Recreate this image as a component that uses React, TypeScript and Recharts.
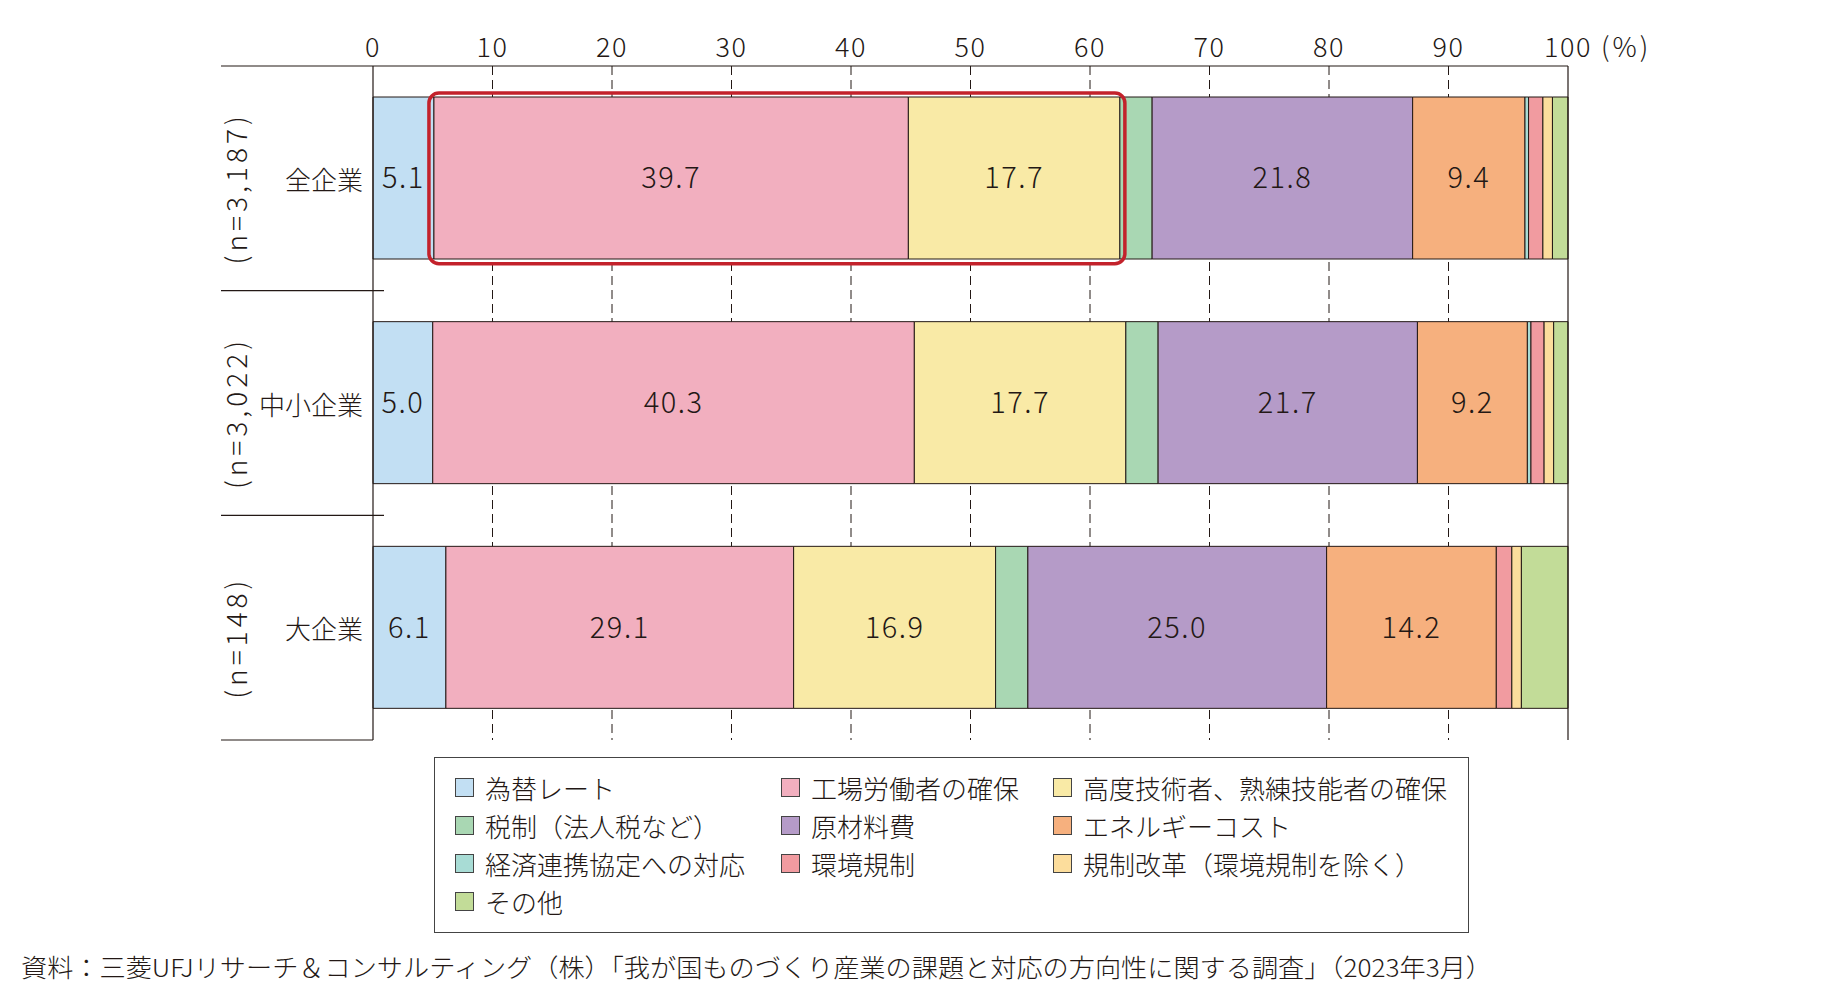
import React from "react";
import {
	BarChart,
	Bar,
	XAxis,
	YAxis,
	CartesianGrid,
	LabelList,
	ReferenceArea,
	ReferenceLine,
} from "recharts";

const FONT = '"Noto Sans CJK JP", "Noto Sans", sans-serif';
const INK = "#231815";

const categories = ["全企業", "中小企業", "大企業"];
const sampleSizes = ["(n=3,187)", "(n=3,022)", "(n=148)"];

const seriesNames = [
	"為替レート",
	"工場労働者の確保",
	"高度技術者、熟練技能者の確保",
	"税制（法人税など）",
	"原材料費",
	"エネルギーコスト",
	"経済連携協定への対応",
	"環境規制",
	"規制改革（環境規制を除く）",
	"その他",
];

// values in %, one per category (全企業, 中小企業, 大企業)
const kawase = [5.1, 5.0, 6.1];
const koujou = [39.7, 40.3, 29.1];
const koudo = [17.7, 17.7, 16.9];
const zeisei = [2.7, 2.7, 2.7];
const genzairyou = [21.8, 21.7, 25.0];
const energy = [9.4, 9.2, 14.2];
const keizai = [0.3, 0.3, 0.0];
const kankyou = [1.2, 1.1, 1.3];
const kisei = [0.8, 0.8, 0.8];
const sonota = [1.3, 1.2, 3.9];

const seriesValues = [kawase, koujou, koudo, zeisei, genzairyou, energy, keizai, kankyou, kisei, sonota];
const showValue = [true, true, true, false, true, true, false, false, false, false];

const colors = [
	"#c2dff3",
	"#f2afbf",
	"#f9eaa6",
	"#a9d7b3",
	"#b59bc8",
	"#f6b07e",
	"#a8dcd5",
	"#f19ba0",
	"#fcdd9c",
	"#c2dc98",
];

const xTicks = [0, 10, 20, 30, 40, 50, 60, 70, 80, 90, 100];

const sourceText =
	"資料：三菱UFJリサーチ＆コンサルティング（株）「我が国ものづくり産業の課題と対応の方向性に関する調査」（2023年3月）";

const data = categories.map((name, i) => {
	const row: Record<string, any> = { name };
	seriesValues.forEach((vals, k) => {
		row["s" + k] = vals[i];
	});
	return row;
});

const XTick = (props: any) => {
	const { x, y, payload } = props;
	return (
		<g>
			<text x={x} y={y} textAnchor="middle" fontSize={27} fontWeight={300} letterSpacing={1.5} fill={INK} fontFamily={FONT}>
				{payload.value}
			</text>
			{payload.value === 100 && (
				<text x={x + 33} y={y} textAnchor="start" fontSize={27} fontWeight={300} letterSpacing={3} fill={INK} fontFamily={FONT}>
					(%)
				</text>
			)}
		</g>
	);
};

const CategoryTick = (props: any) => {
	const { x, y, payload, index } = props;
	const half = payload.offset ?? 112.3;
	const last = index === categories.length - 1;
	return (
		<g>
			<text x={x} y={y} textAnchor="end" dominantBaseline="central" fontSize={26} fontWeight={300} fill={INK} fontFamily={FONT}>
				{payload.value}
			</text>
			<text
				transform={`translate(${x - 128},${y + 10}) rotate(-90)`}
				textAnchor="middle"
				dominantBaseline="central"
				fontSize={28}
				fontWeight={300}
				letterSpacing={4}
				fill={INK}
				fontFamily={FONT}
			>
				{sampleSizes[index]}
			</text>
			{index === 0 && <line x1={x - 142} x2={x + 10} y1={y - half} y2={y - half} stroke={INK} strokeWidth={1.2} />}
			<line x1={x - 142} x2={x + (last ? 10 : 21)} y1={y + half} y2={y + half} stroke={INK} strokeWidth={1.2} />
		</g>
	);
};

const HighlightBox = (props: any) => {
	const { x, y, width, height } = props;
	return (
		<rect
			x={x - 5}
			y={y + 27}
			width={width + 10}
			height={height - 54}
			rx={10}
			ry={10}
			fill="none"
			stroke="#c3222b"
			strokeWidth={3.5}
		/>
	);
};

const App = () => {
	return (
		<div style={{ position: "relative", width: 1816, height: 981, fontFamily: FONT, color: INK }}>
			<BarChart
				width={1816}
				height={981}
				data={data}
				layout="vertical"
				margin={{ top: 0, right: 256, bottom: 249, left: 165 }}
				barSize={162}
			>
				<CartesianGrid
					horizontal={false}
					verticalValues={xTicks.slice(1, -1)}
					stroke={INK}
					strokeDasharray="9 5"
				/>
				<XAxis
					type="number"
					orientation="top"
					domain={[0, 100]}
					ticks={xTicks}
					interval={0}
					height={58}
					tickLine={false}
					tickSize={0}
					tickMargin={9}
					axisLine={{ stroke: INK, strokeWidth: 1.2 }}
					tick={<XTick />}
				/>
				<XAxis
					xAxisId="b"
					type="number"
					orientation="bottom"
					domain={[0, 100]}
					height={0}
					tick={false}
					tickLine={false}
					axisLine={{ stroke: INK, strokeWidth: 1.2 }}
				/>
				<YAxis
					type="category"
					dataKey="name"
					width={200}
					tickLine={false}
					tickSize={0}
					tickMargin={10}
					axisLine={{ stroke: INK, strokeWidth: 1.2 }}
					tick={<CategoryTick />}
				/>
				{seriesNames.map((name, k) => (
					<Bar
						key={name}
						dataKey={"s" + k}
						name={name}
						stackId="a"
						fill={colors[k]}
						stroke={INK}
						strokeWidth={1}
						isAnimationActive={false}
					>
						{showValue[k] && (
							<LabelList
								dataKey={"s" + k}
								position="center"
								fontSize={29}
								fontWeight={300}
								letterSpacing={1.5}
								fill={INK}
								fontFamily={FONT}
								formatter={(v: any) => Number(v).toFixed(1)}
							/>
						)}
					</Bar>
				))}
				<ReferenceLine x={100} stroke={INK} strokeWidth={1.2} />
				<ReferenceArea
					y1={categories[0]}
					y2={categories[0]}
					x1={kawase[0]}
					x2={kawase[0] + koujou[0] + koudo[0]}
					ifOverflow="visible"
					zIndex={1000}
					shape={HighlightBox}
				/>
			</BarChart>

			<div
				style={{
					position: "absolute",
					left: 426,
					top: 749,
					width: 1035,
					height: 176,
					boxSizing: "border-box",
					border: "1.5px solid #444",
					padding: "10px 0 0 20px",
					display: "grid",
					gridTemplateColumns: "326px 272px 1fr",
					gridAutoRows: "38px",
				}}
			>
				{seriesNames.map((name, k) => (
					<div
						key={name}
						style={{ display: "flex", alignItems: "center", fontSize: 26, fontWeight: 300, whiteSpace: "nowrap" }}
					>
						<span
							style={{
								display: "inline-block",
								width: 19,
								height: 19,
								boxSizing: "border-box",
								background: colors[k],
								border: "1px solid #444",
								marginRight: 11,
							}}
						/>
						{name}
					</div>
				))}
			</div>

			<svg style={{ position: "absolute", left: 0, top: 940 }} width={1816} height={40}>
				<text
					x={13}
					y={29}
					fontSize={25}
					fontWeight={300}
					fill={INK}
					fontFamily={FONT}
					textLength={1471}
					lengthAdjust="spacingAndGlyphs"
				>
					{sourceText}
				</text>
			</svg>
		</div>
	);
};

export default App;
